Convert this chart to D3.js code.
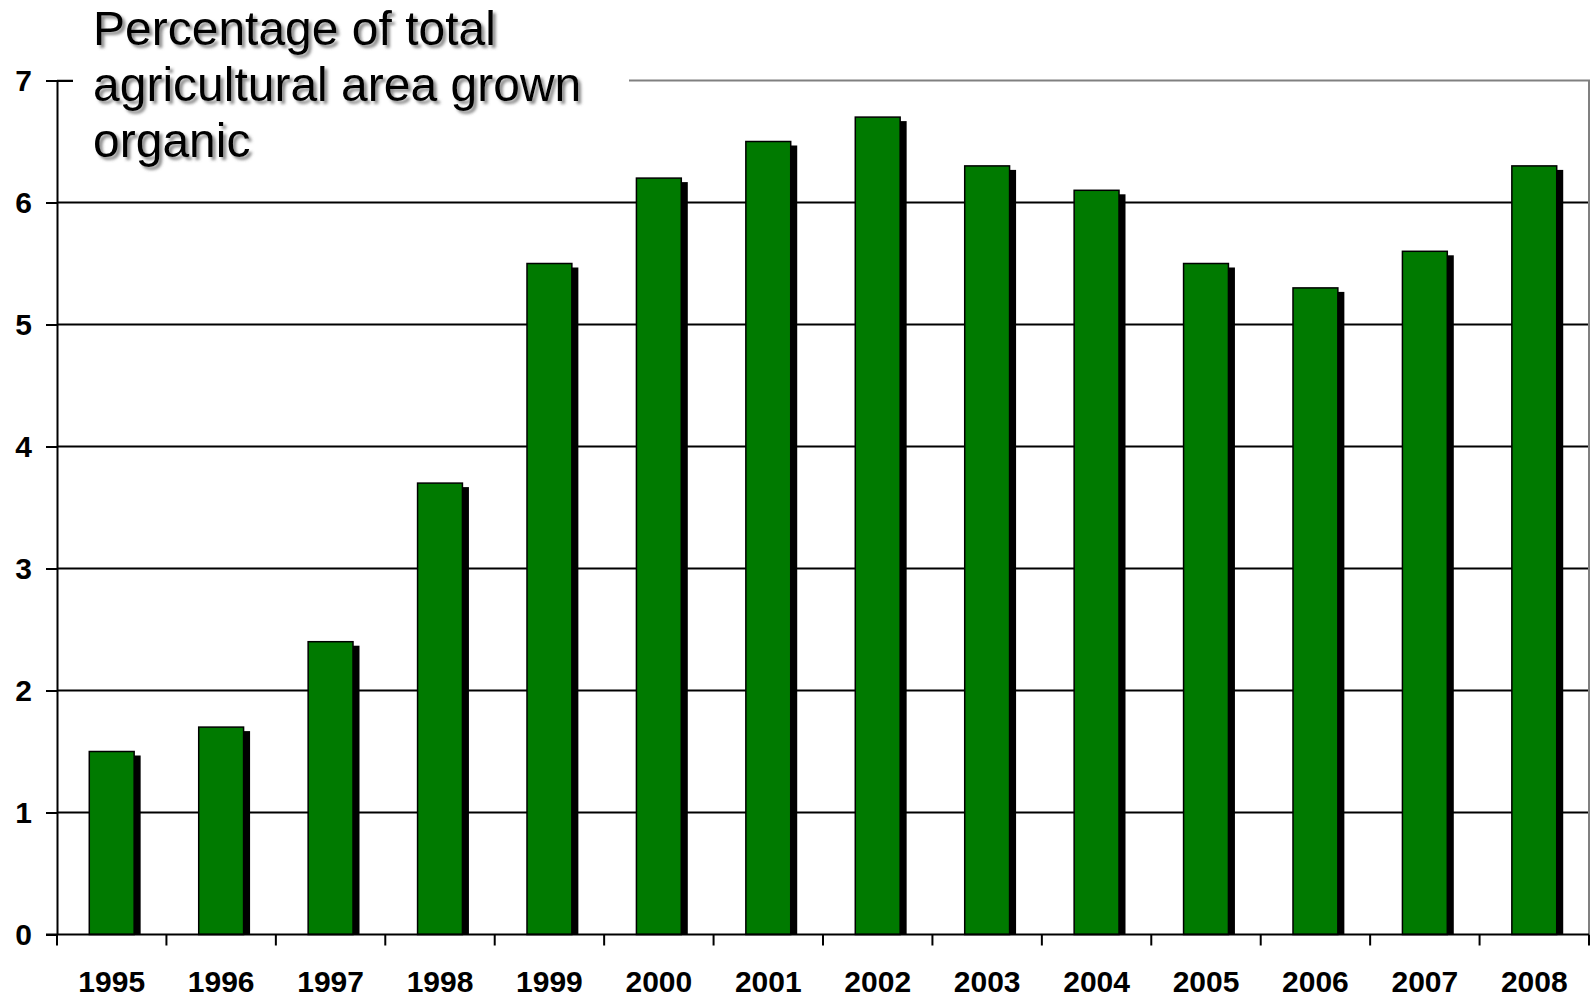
<!DOCTYPE html>
<html>
<head>
<meta charset="utf-8">
<script src="https://cdn.jsdelivr.net/npm/d3@7"></script>
<style>
  body { margin: 0; background: #fff; }
  text { font-family: "Liberation Sans", Arial, sans-serif; }
</style>
</head>
<body>
<div id="chart"></div>
<script>
var years = ["1995", "1996", "1997", "1998", "1999", "2000", "2001",
             "2002", "2003", "2004", "2005", "2006", "2007", "2008"];
var organicShare = [1.5, 1.7, 2.4, 3.7, 5.5, 6.2, 6.5, 6.7, 6.3, 6.1, 5.5, 5.3, 5.6, 6.3];
var yTicks = [0, 1, 2, 3, 4, 5, 6, 7];
var titleLines = ["Percentage of total", "agricultural area grown", "organic"];

var width = 1590, height = 999;
var plotLeft = 57, plotRight = 1589, plotTop = 80.5, plotBottom = 934.5;

var svg = d3.select("#chart").append("svg")
    .attr("width", width).attr("height", height);

var defs = svg.append("defs");
defs.append("filter").attr("id", "shadow")
    .attr("x", "-10%").attr("y", "-10%").attr("width", "120%").attr("height", "130%")
    .append("feDropShadow")
    .attr("dx", 3).attr("dy", 3).attr("stdDeviation", 1.6)
    .attr("flood-color", "#666").attr("flood-opacity", 0.75);

var x = d3.scaleBand().domain(years).range([plotLeft, plotRight]).padding(0);
var y = d3.scaleLinear().domain([0, 7]).range([plotBottom, plotTop]);

// gridlines
svg.append("g").selectAll("line")
    .data(yTicks.filter(function (d) { return d > 0 && d < 7; }))
    .join("line")
    .attr("x1", plotLeft).attr("x2", plotRight)
    .attr("y1", function (d) { return y(d); }).attr("y2", function (d) { return y(d); })
    .attr("stroke", "#000").attr("stroke-width", 2);

// plot border top + right (grey)
svg.append("path")
    .attr("d", "M" + plotLeft + "," + y(7) + "H" + plotRight + "V" + plotBottom)
    .attr("fill", "none").attr("stroke", "#808080").attr("stroke-width", 2);

// bars
var barW = x.bandwidth() * 0.41;
var bars = svg.append("g");
bars.selectAll("rect.shadow")
    .data(organicShare)
    .join("rect").attr("class", "shadow")
    .attr("x", function (d, i) { return x(years[i]) + (x.bandwidth() - barW) / 2 + 6.5; })
    .attr("y", function (d) { return y(d) + 4; })
    .attr("width", barW)
    .attr("height", function (d) { return plotBottom - y(d) - 4; })
    .attr("fill", "#000");
bars.selectAll("rect.bar")
    .data(organicShare)
    .join("rect").attr("class", "bar")
    .attr("x", function (d, i) { return x(years[i]) + (x.bandwidth() - barW) / 2; })
    .attr("y", function (d) { return y(d); })
    .attr("width", barW)
    .attr("height", function (d) { return plotBottom - y(d); })
    .attr("fill", "#007a00")
    .attr("stroke", "#000").attr("stroke-width", 1.5);

// title box hides part of the top line
svg.append("rect")
    .attr("x", 73).attr("y", 0).attr("width", 556).attr("height", 175)
    .attr("fill", "#fff");

// y axis
var yAxis = svg.append("g")
    .attr("transform", "translate(" + plotLeft + ",0)")
    .call(d3.axisLeft(y).tickValues(yTicks).tickFormat(d3.format("d"))
        .tickSize(11).tickPadding(14).tickSizeOuter(0));
yAxis.select(".domain").attr("stroke", "#000").attr("stroke-width", 2);
yAxis.selectAll(".tick line").attr("stroke", "#000").attr("stroke-width", 2)
    .attr("x2", function (d) { return d === 7 ? 16 : -11; })
    .attr("x1", function (d) { return d === 7 ? -11 : 0; });
yAxis.selectAll(".tick text")
    .attr("font-size", 30).attr("font-weight", "bold")
    .attr("font-family", "Liberation Sans, Arial, sans-serif")
    .attr("fill", "#000");

// x axis
var xAxis = svg.append("g")
    .attr("transform", "translate(0," + plotBottom + ")")
    .call(d3.axisBottom(x).tickSize(0).tickPadding(36).tickSizeOuter(0));
xAxis.select(".domain").attr("stroke", "#000").attr("stroke-width", 2)
    .attr("d", "M" + (plotLeft - 11) + ",0H" + plotRight);
xAxis.selectAll(".tick text")
    .attr("font-size", 30).attr("font-weight", "bold")
    .attr("font-family", "Liberation Sans, Arial, sans-serif")
    .attr("fill", "#000");
// tick marks on band edges
xAxis.append("g").selectAll("line")
    .data(years.concat(["end"]))
    .join("line")
    .attr("x1", function (d, i) { return i < years.length ? x(d) : plotRight; })
    .attr("x2", function (d, i) { return i < years.length ? x(d) : plotRight; })
    .attr("y1", 0).attr("y2", 11)
    .attr("stroke", "#000").attr("stroke-width", 2);

// title
svg.append("text")
    .attr("x", 93).attr("y", 45)
    .attr("font-size", 48).attr("fill", "#000")
    .attr("filter", "url(#shadow)")
    .selectAll("tspan")
    .data(titleLines)
    .join("tspan")
    .attr("x", 93)
    .attr("dy", function (d, i) { return i === 0 ? 0 : 56; })
    .text(function (d) { return d; });
</script>
</body>
</html>
